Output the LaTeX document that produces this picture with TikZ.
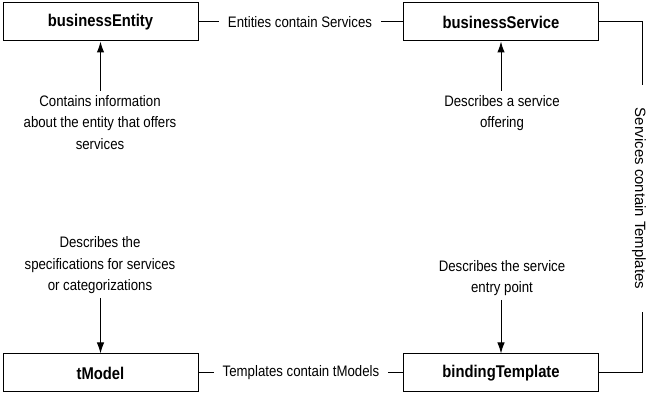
\documentclass[tikz,border=0pt]{standalone}
\usepackage{fontspec}
\setmainfont{Liberation Sans}[FakeStretch=0.87]
\newfontfamily\plainsans{Liberation Sans}
\usetikzlibrary{arrows.meta}
\begin{document}
\begin{tikzpicture}[x=1pt,y=-1pt,
  box/.style={draw,line width=1pt,minimum width=195pt,minimum height=38pt,inner sep=0pt,font=\fontsize{17}{20}\selectfont\bfseries},
  lbl/.style={font=\fontsize{15.2}{21.5}\selectfont,align=center,inner xsep=0pt,inner ysep=4pt},
  rel/.style={font=\fontsize{15.2}{18}\selectfont,inner xsep=9pt,inner ysep=0pt},
  conn/.style={line width=1pt},
  arr/.style={line width=1pt,-{Latex[length=11pt,width=7.5pt]}}]
\useasboundingbox (0,0) rectangle (651,395);
\node[box] (be) at (100.5,22) {businessEntity};
\node[box] (bs) at (501,22) {businessService};
\node[box] (tm) at (100.5,373) {tModel};
\node[box] (bt) at (501,373) {bindingTemplate};
% relation labels
\node[rel] (ecs) at (300,22) {Entities contain Services};
\node[rel] (tct) at (301,373) {Templates contain tModels};
\node[rel,rotate=-90,inner xsep=23pt,font=\plainsans\fontsize{14.9}{18}\selectfont] (sct) at (639,198.5) {Services contain Templates};
\draw[conn] (be.east) -- (ecs.west);
\draw[conn] (ecs.east) -- (bs.west);
\draw[conn] (tm.east) -- (tct.west);
\draw[conn] (tct.east) -- (bt.west);
\coordinate (rt) at (642,22);
\coordinate (rb) at (642,373);
\draw[conn] (bs.east) -- (rt) -- (rt |- sct.west);
\draw[conn] (rb |- sct.east) -- (rb) -- (bt.east);
% descriptions
\node[lbl,anchor=north] (d1) at (100,91) {Contains information\\about the entity that offers\\services};
\node[lbl,anchor=north] (d2) at (502,91) {Describes a service\\offering};
\node[lbl,anchor=south] (d3) at (100,298) {Describes the\\specifications for services\\or categorizations};
\node[lbl,anchor=south] (d4) at (502,300) {Describes the service\\entry point};
\draw[arr] (be.south |- d1.north) -- (be.south);
\draw[arr] (bs.south |- d2.north) -- (bs.south);
\draw[arr] (tm.north |- d3.south) -- (tm.north);
\draw[arr] (bt.north |- d4.south) -- (bt.north);
\end{tikzpicture}
\end{document}
